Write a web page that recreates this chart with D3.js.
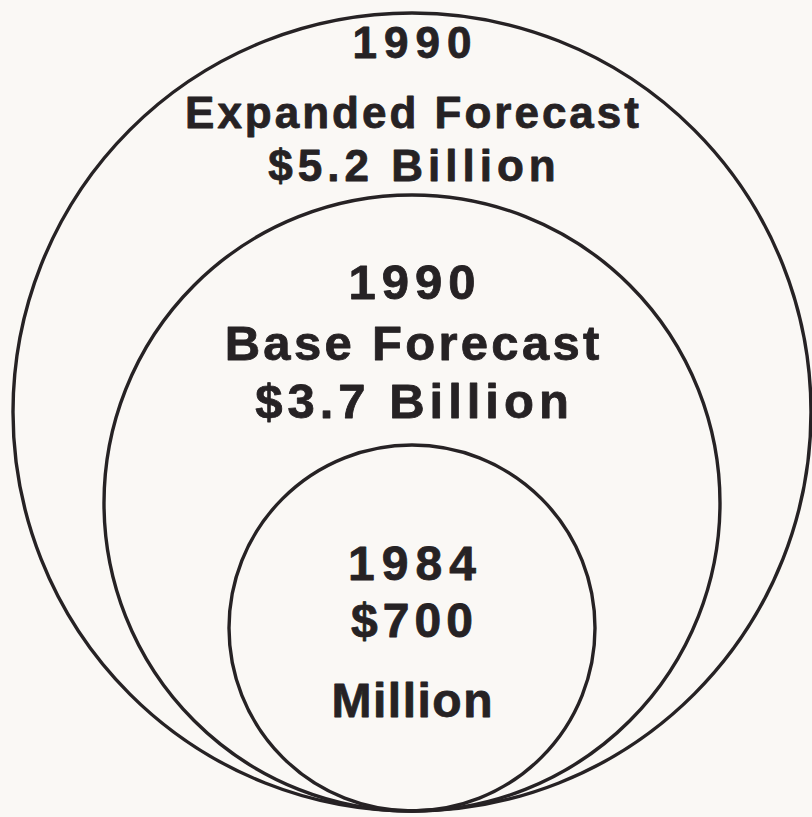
<!DOCTYPE html>
<html>
<head>
<meta charset="utf-8">
<script src="https://cdn.jsdelivr.net/npm/d3@7"></script>
<style>
  html, body { margin: 0; padding: 0; background: #faf8f5; }
  svg { display: block; }
</style>
</head>
<body>
<div id="chart"></div>
<script>
// Market size: 1984 actual vs. 1990 base and expanded forecasts
const years   = ["1990", "1990", "1984"];
const titles  = ["Expanded Forecast", "Base Forecast", ""];
const amounts = [5.2, 3.7, 0.7];            // billions of dollars
const amountLabels = [["$5.2 Billion"], ["$3.7 Billion"], ["$700", "Million"]];

// Layout
const W = 812, H = 817;
const cx = 412, baseY = 811;                // circles share a common bottom tangent point
const ink = "#262224";

// Circle radius per amount (illustrative, not area-proportional)
const radius = d3.scaleLinear()
  .domain([0.7, 3.7, 5.2])
  .range([183, 308, 399]);

// Text block per circle: font size, per-line letter spacing, baselines from circle top
const textStyle = [
  { size: 44, spacing: [7, 3, 5],   offsets: [45, 115, 168] },
  { size: 49, spacing: [6, 3.3, 5], offsets: [104, 165, 223] },
  { size: 48, spacing: [7, 5, 1.5], offsets: [135, 192, 272] }
];

const svg = d3.select("#chart").append("svg")
  .attr("width", W).attr("height", H)
  .attr("viewBox", `0 0 ${W} ${H}`);

svg.append("rect").attr("width", W).attr("height", H).attr("fill", "#faf8f5");

const data = amounts.map((v, i) => ({
  value: v, year: years[i], title: titles[i], amount: amountLabels[i], style: textStyle[i]
}));

svg.selectAll("circle.ring")
  .data(data)
  .join("circle")
  .attr("class", "ring")
  .attr("cx", cx)
  .attr("cy", d => baseY - radius(d.value))
  .attr("r", d => radius(d.value))
  .attr("fill", "none")
  .attr("stroke", ink)
  .attr("stroke-width", 3.4);

data.forEach(d => {
  const top = baseY - 2 * radius(d.value);
  const lines = [d.year].concat(d.title ? [d.title] : []).concat(d.amount);
  svg.append("g")
    .selectAll("text")
    .data(lines)
    .join("text")
    .attr("x", (t, j) => cx + d.style.spacing[j] / 2)   // offset trailing letter-spacing
    .attr("y", (t, j) => top + d.style.offsets[j])
    .attr("text-anchor", "middle")
    .attr("font-family", "'Liberation Sans', Arial, Helvetica, sans-serif")
    .attr("font-weight", "bold")
    .attr("font-size", d.style.size)
    .attr("letter-spacing", (t, j) => d.style.spacing[j])
    .attr("fill", ink)
    .attr("stroke", ink)
    .attr("stroke-width", 0.8)
    .attr("stroke-linejoin", "round")
    .text(t => t);
});
</script>
</body>
</html>
